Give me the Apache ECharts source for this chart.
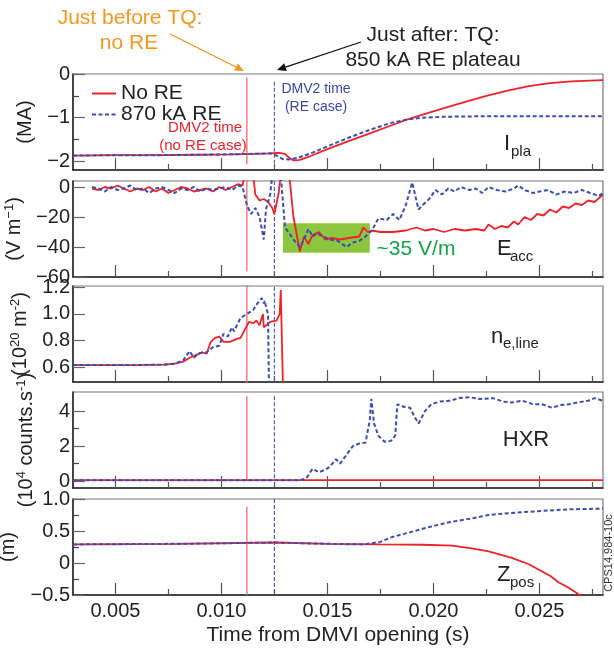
<!DOCTYPE html>
<html>
<head>
<meta charset="utf-8">
<script src="https://cdn.jsdelivr.net/npm/echarts@6/dist/echarts.min.js"></script>
<style>
  html, body { margin: 0; padding: 0; background: #fff; }
  #chart { width: 614px; height: 650px; }
</style>
</head>
<body>
<div id="chart"></div>
<script>
// ---- time axis (s) ----
const timeRange = [0.003, 0.028];
const timeMajorTicks = [0.005, 0.010, 0.015, 0.020, 0.025];
const timeMinorTicks = [0.0075, 0.0125, 0.0175, 0.0225, 0.0275];

// ---- DMV2 injection times (s) ----
const dmv2TimeNoRE = 0.0112;
const dmv2TimeRE = 0.0125;

// ---- Plasma current I_pla (MA) ----
const ipNoRE = [[0.0030,-1.87],[0.0050,-1.86],[0.0070,-1.86],[0.0090,-1.85],[0.0105,-1.84],[0.0115,-1.83],[0.0122,-1.82],[0.0127,-1.81],[0.0130,-1.83],[0.0132,-1.92],[0.0134,-1.98],[0.0137,-1.97],[0.0142,-1.88],[0.0150,-1.72],[0.0160,-1.54],[0.0170,-1.36],[0.0180,-1.18],[0.0187,-1.05],[0.0195,-0.93],[0.0205,-0.78],[0.0215,-0.64],[0.0225,-0.50],[0.0235,-0.38],[0.0245,-0.28],[0.0255,-0.21],[0.0265,-0.17],[0.0280,-0.14]];
const ipRE = [[0.0030,-1.87],[0.0050,-1.86],[0.0070,-1.86],[0.0090,-1.85],[0.0105,-1.84],[0.0115,-1.83],[0.0123,-1.82],[0.0126,-1.87],[0.0129,-1.95],[0.0132,-1.96],[0.0136,-1.92],[0.0142,-1.82],[0.0150,-1.66],[0.0160,-1.46],[0.0170,-1.28],[0.0180,-1.12],[0.0187,-1.05],[0.0195,-1.00],[0.0205,-0.98],[0.0220,-0.97],[0.0280,-0.97]];

// ---- Accelerating electric field E_acc (V/m) ----
const eaccNoRE = [[0.0039,-1],[0.0042,-2],[0.0045,0],[0.0048,-1],[0.0051,1],[0.0054,-1],[0.0057,-3],[0.0060,-1],[0.0063,-2],[0.0066,0],[0.0069,-3],[0.0072,-1],[0.0075,-4],[0.0078,-2],[0.0081,0],[0.0084,-1],[0.0087,-3],[0.0090,-2],[0.0093,-1],[0.0096,-3],[0.0099,0],[0.0102,-2],[0.0105,0],[0.0108,2],[0.0110,1],[0.0111,8],[0.0115,8],[0.0116,-5],[0.0118,-9],[0.0120,-8],[0.0122,-10],[0.0124,-14],[0.0125,-18],[0.0127,-4],[0.0128,8],[0.0132,8],[0.0134,-20],[0.0137,-43],[0.0139,-33],[0.0141,-38],[0.0143,-32],[0.0146,-30],[0.0149,-35],[0.0152,-34],[0.0156,-35],[0.0160,-34],[0.0165,-33],[0.0167,-27],[0.0169,-30],[0.0171,-29],[0.0175,-30],[0.0181,-30],[0.0187,-29],[0.0192,-27],[0.0196,-29],[0.0200,-28],[0.0205,-30],[0.0210,-28],[0.0215,-29],[0.0220,-28],[0.0224,-29],[0.0226,-25],[0.0229,-28],[0.0232,-26],[0.0235,-27],[0.0238,-23],[0.0240,-25],[0.0243,-20],[0.0246,-22],[0.0249,-18],[0.0252,-19],[0.0255,-15],[0.0258,-17],[0.0261,-13],[0.0264,-14],[0.0267,-11],[0.0270,-12],[0.0273,-9],[0.0276,-10],[0.0280,-5]];
const eaccRE = [[0.0039,0],[0.0042,-1],[0.0045,-3],[0.0048,0],[0.0051,-2],[0.0054,-1],[0.0057,1],[0.0060,-2],[0.0063,-1],[0.0066,-4],[0.0069,-1],[0.0072,0],[0.0075,-2],[0.0078,-4],[0.0081,-1],[0.0084,-2],[0.0087,0],[0.0090,-3],[0.0093,-1],[0.0096,-2],[0.0099,-1],[0.0102,0],[0.0105,-2],[0.0108,1],[0.0110,0],[0.0112,-12],[0.0114,-18],[0.0116,-14],[0.0118,-20],[0.0120,-35],[0.0121,-15],[0.0123,-5],[0.0124,8],[0.0128,8],[0.0130,-27],[0.0134,-35],[0.0137,-40],[0.0139,-35],[0.0141,-28],[0.0143,-33],[0.0145,-31],[0.0148,-33],[0.0151,-35],[0.0155,-36],[0.0159,-40],[0.0162,-37],[0.0165,-36],[0.0168,-33],[0.0171,-29],[0.0174,-21],[0.0178,-22],[0.0181,-18],[0.0184,-22],[0.0187,-12],[0.0190,3],[0.0193,-15],[0.0195,-12],[0.0198,-8],[0.0201,-2],[0.0204,-5],[0.0207,-1],[0.0210,-3],[0.0213,0],[0.0217,-2],[0.0220,-1],[0.0223,-4],[0.0226,0],[0.0230,-2],[0.0234,-3],[0.0238,-1],[0.0240,1],[0.0243,-2],[0.0247,-4],[0.0250,-3],[0.0254,-2],[0.0258,-5],[0.0262,-3],[0.0266,-4],[0.0270,-2],[0.0274,-4],[0.0278,-6],[0.0280,-4]];
// plateau window highlighted on E_acc: [t start, E top], [t end, E bottom]
const plateauBox = [[0.0129, -24.2], [0.0170, -43.8]];

// ---- Line-integrated density n_e,line (1e20 m^-2) ----
const neNoRE = [[0.0030,0.615],[0.0060,0.615],[0.0073,0.618],[0.0078,0.625],[0.0082,0.64],[0.0085,0.67],[0.0088,0.69],[0.0091,0.71],[0.0093,0.70],[0.0095,0.79],[0.0097,0.82],[0.0099,0.83],[0.0101,0.79],[0.0104,0.79],[0.0107,0.81],[0.0109,0.82],[0.0111,0.88],[0.0113,0.94],[0.0115,0.93],[0.01165,0.95],[0.0118,0.915],[0.0119,0.97],[0.01196,1.0],[0.0120,0.90],[0.0123,0.94],[0.0126,0.95],[0.01275,1.0],[0.0128,1.18],[0.01285,1.19],[0.0129,0.48]];
const neRE = [[0.0030,0.615],[0.0060,0.615],[0.0073,0.618],[0.0078,0.625],[0.0082,0.65],[0.0085,0.72],[0.0087,0.67],[0.0089,0.70],[0.0091,0.71],[0.0093,0.71],[0.0096,0.75],[0.0099,0.76],[0.0101,0.85],[0.0103,0.83],[0.0105,0.90],[0.0106,0.87],[0.0109,0.97],[0.0112,1.0],[0.0115,1.03],[0.0117,1.08],[0.0119,1.12],[0.0120,1.08],[0.01205,1.10],[0.0121,1.055],[0.0122,1.0],[0.01224,0.48]];

// ---- Hard X-ray counts HXR (1e4 counts/s) ----
const hxrNoRE = [[0.0030,0.05],[0.0280,0.05]];
const hxrRE = [[0.0030,0.05],[0.0137,0.05],[0.0140,0.15],[0.0143,0.7],[0.0146,0.5],[0.0149,0.65],[0.0151,0.8],[0.0154,1.25],[0.0156,1.0],[0.0159,1.5],[0.0162,2.0],[0.0165,2.15],[0.0168,2.2],[0.0170,3.5],[0.01707,4.7],[0.0172,3.3],[0.0174,2.6],[0.0177,2.25],[0.0180,2.3],[0.0182,2.6],[0.0183,4.4],[0.0186,4.25],[0.0189,4.2],[0.0191,3.7],[0.0193,3.3],[0.0196,4.0],[0.0199,4.4],[0.0203,4.55],[0.0208,4.6],[0.0212,4.75],[0.0217,4.8],[0.0222,4.7],[0.0228,4.75],[0.0233,4.55],[0.0237,4.5],[0.0242,4.6],[0.0247,4.4],[0.0251,4.4],[0.0256,4.2],[0.0260,4.35],[0.0264,4.4],[0.0268,4.5],[0.0273,4.6],[0.0276,4.75],[0.0280,4.6]];

// ---- Vertical position Z_pos (m) ----
const zNoRE = [[0.0030,0.29],[0.0080,0.30],[0.0125,0.32],[0.0150,0.30],[0.0175,0.29],[0.0195,0.285],[0.0209,0.27],[0.0218,0.23],[0.0226,0.18],[0.0237,0.08],[0.0245,-0.02],[0.0250,-0.11],[0.0255,-0.20],[0.0259,-0.30],[0.0264,-0.39],[0.0269,-0.50],[0.0270,-0.52]];
const zRE = [[0.0030,0.29],[0.0080,0.30],[0.0125,0.32],[0.0150,0.30],[0.0167,0.29],[0.0175,0.33],[0.0180,0.40],[0.0190,0.49],[0.0199,0.57],[0.0208,0.64],[0.0217,0.69],[0.0226,0.75],[0.0236,0.78],[0.0245,0.80],[0.0254,0.82],[0.0265,0.84],[0.0280,0.85]];

// DMV2 trigger traces: [upper, lower] signal excursion in each panel
const dmv2SpanNoRE = [[-0.08,-2.07],[8,-56],[1.25,0.48],[4.85,0],[0.88,-0.5]];
const dmv2SpanRE = [[-0.18,-2.05],[8,-60],[1.25,0.48],[4.85,0],[1.0,-0.5]];

// ---- panel axes ----
const panelNames = ['(MA)', '(V m{sup|\u22121})', '(10{sup|20} m{sup|-2})', '(10{sup|4} counts.s{sup|-1})', '(m)'];
const panelRanges = [[-2.2, 0], [-60, 4], [0.487, 1.211], [-0.4, 5.1], [-0.5, 1.0]];
const panelMajorTicks = [[0, -1, -2], [0, -20, -40, -60], [1.2, 1.0, 0.8, 0.6], [0, 2, 4], [1.0, 0.5, 0, -0.5]];
const panelMinorTicks = [[-0.5, -1.5], [], [], [1, 3], [0.75, 0.25, -0.25]];
const panelDecimals = [0, 0, 1, 0, 1];
const panelNoRE = [ipNoRE, eaccNoRE, neNoRE, hxrNoRE, zNoRE];
const panelRE = [ipRE, eaccRE, neRE, hxrRE, zRE];

const RED = '#ee2229';
const BLUE = '#3b4cb5';
const FONT = '"Liberation Sans", Arial, Helvetica, sans-serif';
const TXT = '#222';

const gridTops = [74, 181, 286, 392, 499];
const gridH = 96, gridLeft = 73, gridRight = 11;

function fmtNum(v, d) {
  if (Math.abs(v) < 1e-9) return '0';
  const s = Math.abs(v).toFixed(d);
  return (v < 0 ? '\u2212' : '') + s;
}

const grids = [], xAxes = [], yAxes = [], series = [];
gridTops.forEach((top, i) => {
  grids.push({ left: gridLeft, right: gridRight, top: top, height: gridH, show: true,
    outerBoundsMode: 'none', containLabel: false,
    borderColor: '#777', borderWidth: 1.2, backgroundColor: 'transparent' });
  const isLast = i === gridTops.length - 1;
  // major time ticks (with labels on the bottom panel)
  xAxes.push({
    type: 'value', gridIndex: i, min: timeRange[0], max: timeRange[1], position: 'bottom',
    axisLine: { show: true, onZero: false, lineStyle: { color: '#222', width: 1.5 } },
    splitLine: { show: false },
    axisTick: { show: true, inside: true, length: 12, customValues: timeMajorTicks, lineStyle: { color: '#555', width: 1.2 } },
    axisLabel: { show: isLast, customValues: timeMajorTicks, margin: 6, fontSize: 20, fontFamily: FONT, color: TXT,
      formatter: v => v.toFixed(3) },
    name: isLast ? 'Time from DMVI opening (s)' : '',
    nameLocation: 'middle', nameGap: 30,
    nameTextStyle: { fontSize: 21, fontFamily: FONT, color: TXT }
  });
  // minor time ticks
  xAxes.push({
    type: 'value', gridIndex: i, min: timeRange[0], max: timeRange[1], position: 'bottom',
    axisLine: { show: false, onZero: false }, splitLine: { show: false }, axisLabel: { show: false },
    axisTick: { show: true, inside: true, length: 6, customValues: timeMinorTicks, lineStyle: { color: '#555', width: 1.2 } }
  });
  const dec = panelDecimals[i];
  yAxes.push({
    type: 'value', gridIndex: i, min: panelRanges[i][0], max: panelRanges[i][1], position: 'left',
    axisLine: { show: true, onZero: false, lineStyle: { color: '#222', width: 1.5 } },
    splitLine: { show: false },
    axisTick: { show: true, inside: true, length: 12, customValues: panelMajorTicks[i], lineStyle: { color: '#666', width: 1.2 } },
    axisLabel: { customValues: panelMajorTicks[i], margin: 3, fontSize: 20, fontFamily: FONT, color: TXT,
      formatter: v => fmtNum(v, dec) },
    name: panelNames[i], nameLocation: 'middle', nameGap: 36,
    nameTextStyle: { fontSize: 20, fontFamily: FONT, color: TXT, lineHeight: 22,
      rich: { sup: { fontSize: 13, fontFamily: FONT, color: TXT, verticalAlign: 'top', lineHeight: 22 } } }
  });
  yAxes.push({
    type: 'value', gridIndex: i, min: panelRanges[i][0], max: panelRanges[i][1], position: 'left',
    axisLine: { show: false, onZero: false }, splitLine: { show: false }, axisLabel: { show: false },
    axisTick: { show: panelMinorTicks[i].length > 0, inside: true, length: 6, customValues: panelMinorTicks[i].length ? panelMinorTicks[i] : [panelRanges[i][0]], lineStyle: { color: '#444', width: 1.2 } }
  });

  const xi = 2 * i, yi = 2 * i;
  // DMV2 timing traces
  series.push({
    name: 'DMV2 (no RE case)', type: 'line', xAxisIndex: xi, yAxisIndex: yi, z: 3,
    symbol: 'none', silent: true,
    lineStyle: { color: '#f3686b', width: 1.3 },
    data: [[dmv2TimeNoRE, dmv2SpanNoRE[i][0]], [dmv2TimeNoRE, dmv2SpanNoRE[i][1]]]
  });
  series.push({
    name: 'DMV2 (RE case)', type: 'line', xAxisIndex: xi, yAxisIndex: yi, z: 3,
    symbol: 'none', silent: true,
    lineStyle: { color: '#4553c0', width: 1.1, type: [4, 2] },
    data: [[dmv2TimeRE, dmv2SpanRE[i][0]], [dmv2TimeRE, dmv2SpanRE[i][1]]]
  });
  if (i === 1) {
    series.push({
      name: 'plateau', type: 'line', xAxisIndex: xi, yAxisIndex: yi, z: 1, data: [], silent: true,
      markArea: { silent: true, itemStyle: { color: '#8cc63f', opacity: 1 },
        data: [[{ coord: plateauBox[0] }, { coord: plateauBox[1] }]] }
    });
  }
  series.push({
    name: 'No RE', type: 'line', xAxisIndex: xi, yAxisIndex: yi, z: 5,
    symbol: 'none', showSymbol: false,
    lineStyle: { color: RED, width: 1.8 }, itemStyle: { color: RED },
    data: panelNoRE[i]
  });
  series.push({
    name: '870 kA RE', type: 'line', xAxisIndex: xi, yAxisIndex: yi, z: 6,
    symbol: 'none', showSymbol: false,
    lineStyle: { color: BLUE, width: 2, type: [4, 2.5] }, itemStyle: { color: BLUE },
    data: panelRE[i]
  });
});

// arrow helper for the callout annotations
function arrow(x1, y1, x2, y2, color) {
  const ang = Math.atan2(y2 - y1, x2 - x1), L = 9, W = 4;
  const bx = x2 - L * Math.cos(ang), by = y2 - L * Math.sin(ang);
  const px = -Math.sin(ang) * W, py = Math.cos(ang) * W;
  return [
    { type: 'line', shape: { x1: x1, y1: y1, x2: bx, y2: by }, style: { stroke: color, lineWidth: 1.3 } },
    { type: 'polygon', shape: { points: [[x2, y2], [bx + px, by + py], [bx - px, by - py]] }, style: { fill: color } }
  ];
}

function txt(text, x, y, size, color, align, extra) {
  return Object.assign({ type: 'text', x: x, y: y, style: { text: text, fontSize: size, fontFamily: FONT,
    fill: color, textAlign: align || 'center', textVerticalAlign: 'middle' } }, extra || {});
}

const ORANGE = '#f5961f';
const graphics = [
  txt('Just before TQ:', 130, 18, 21, ORANGE),
  txt('no RE', 129, 43, 21, ORANGE),
  txt('Just after: TQ:', 433, 35, 21, TXT),
  txt('850 kA RE plateau', 433, 60, 21, TXT),
  ...arrow(170, 34, 244, 71, ORANGE),
  ...arrow(361, 42, 277, 70, '#111'),
  txt('DMV2 time', 316, 89, 14, '#3a45b0'),
  txt('(RE case)', 316, 107, 14, '#3a45b0'),
  txt('DMV2 time', 205, 128, 15, '#ee2229'),
  txt('(no RE case)', 203, 146, 15, '#ee2229'),
  txt('I', 504, 144, 22, TXT, 'left'),
  txt('pla', 511, 152, 15, TXT, 'left'),
  txt('E', 497, 249, 22, TXT, 'left'),
  txt('acc', 510, 257, 15, TXT, 'left'),
  txt('n', 491, 337, 22, TXT, 'left'),
  txt('e,line', 503, 344, 15, TXT, 'left'),
  txt('HXR', 526, 440, 22, TXT),
  txt('Z', 497, 575, 22, TXT, 'left'),
  txt('pos', 510, 583, 15, TXT, 'left'),
  txt('~35 V/m', 416, 249, 21, '#13a44a'),
  txt('CPS14.984-10c', 609, 553, 11, '#333', 'center', { rotation: Math.PI / 2 })
];

const chart = echarts.init(document.getElementById('chart'), null, { renderer: 'canvas' });
chart.setOption({
  animation: false,
  backgroundColor: '#fff',
  textStyle: { fontFamily: FONT },
  grid: grids,
  xAxis: xAxes,
  yAxis: yAxes,
  legend: {
    data: ['No RE', '870 kA RE'], orient: 'vertical', left: 86, top: 78,
    itemWidth: 24, itemHeight: 12, itemGap: 0,
    itemStyle: { opacity: 0, borderWidth: 0 },
    textStyle: { fontSize: 21, fontFamily: FONT, color: TXT, lineHeight: 19 },
    selectedMode: false
  },
  series: series,
  graphic: graphics
});
</script>
</body>
</html>
